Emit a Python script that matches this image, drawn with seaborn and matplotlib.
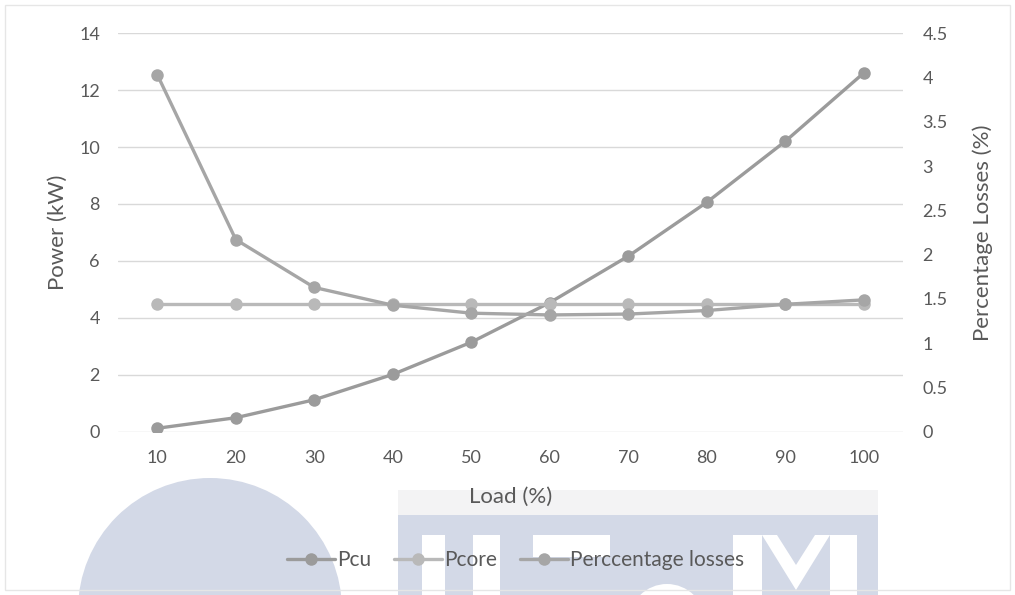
import numpy as np
import pandas as pd
import matplotlib
matplotlib.use("Agg")
import matplotlib.pyplot as plt
from matplotlib.patches import Circle, Rectangle, Polygon
from matplotlib.ticker import FuncFormatter
import seaborn as sns

load = [10, 20, 30, 40, 50, 60, 70, 80, 90, 100]
pcu = [0.13, 0.50, 1.13, 2.02, 3.15, 4.54, 6.17, 8.06, 10.2, 12.6]
pcore = [4.5, 4.5, 4.5, 4.5, 4.5, 4.5, 4.5, 4.5, 4.5, 4.5]
losses = [4.03, 2.17, 1.63, 1.43, 1.34, 1.32, 1.33, 1.37, 1.44, 1.49]

df = pd.DataFrame({'Load': load, 'Pcu': pcu, 'Pcore': pcore, 'Losses': losses})

sns.set_style('white')
plt.rcParams['font.family'] = ['Lato', 'DejaVu Sans']
txt = '#595959'

fig = plt.figure(figsize=(10.15, 5.95), dpi=100)

# faint scan watermark behind the chart (pixel coords)
bg = fig.add_axes([0, 0, 1, 1], zorder=-5)
bg.set_xlim(0, 1015)
bg.set_ylim(595, 0)
bg.axis('off')
wm = '#d3d9e7'
bg.add_patch(Circle((210, 610), 132, color=wm, lw=0))
bg.add_patch(Rectangle((398, 490), 480, 25, color='#f3f3f4', lw=0))
bg.add_patch(Rectangle((398, 515), 480, 82, color=wm, lw=0))
for x0, w in [(422, 23), (473, 27), (733, 29), (830, 27)]:
    bg.add_patch(Rectangle((x0, 535), w, 62, color='white', lw=0))
bg.add_patch(Rectangle((533, 535), 77, 22, color='white', lw=0))
bg.add_patch(Polygon([(762, 535), (796, 590), (830, 535), (815, 535), (796, 565), (777, 535)],
                     closed=True, color='white', lw=0))
bg.add_patch(Circle((667, 622), 38, color='white', lw=0))
bg.add_patch(Rectangle((5, 5), 1005, 585, fill=False, ec='#e6e6e6', lw=1))

ax = fig.add_axes([0.1163, 0.274, 0.7734, 0.6705])
ax.patch.set_alpha(0)
ax2 = ax.twinx()

c_cu, c_core, c_loss = '#9b9b9b', '#b9b9b9', '#a6a6a6'
kw = dict(marker='o', markersize=9, linewidth=2.4, markeredgewidth=0)
sns.lineplot(data=df, x='Load', y='Pcu', ax=ax, color=c_cu, label='Pcu', legend=False, **kw)
sns.lineplot(data=df, x='Load', y='Pcore', ax=ax, color=c_core, label='Pcore', legend=False, **kw)
sns.lineplot(data=df, x='Load', y='Losses', ax=ax2, color=c_loss, label='Perccentage losses', legend=False, **kw)

ax.set_xlim(5, 105)
ax.set_ylim(0, 14)
ax2.set_ylim(0, 4.5)
ax.set_xticks(load)
ax.set_yticks(np.arange(0, 15, 2))
ax2.set_yticks(np.arange(0, 4.6, 0.5))
ax2.yaxis.set_major_formatter(FuncFormatter(lambda v, p: '%g' % v))

ax.grid(axis='y', color='#d9d9d9', lw=1)
ax.set_axisbelow(True)
for a in (ax, ax2):
    for s in a.spines.values():
        s.set_visible(False)
    a.tick_params(length=0, labelsize=13, labelcolor=txt)
ax.tick_params(axis='y', pad=13)
ax.tick_params(axis='x', pad=13)
ax2.tick_params(axis='y', pad=14)

ax.set_xlabel('Load (%)', fontsize=16, color=txt, labelpad=15)
ax.set_ylabel('Power (kW)', fontsize=16, color=txt, labelpad=8)
ax2.set_ylabel('Percentage Losses (%)', fontsize=16, color=txt, labelpad=18)

h1, l1 = ax.get_legend_handles_labels()
h2, l2 = ax2.get_legend_handles_labels()
fig.legend(h1 + h2, l1 + l2, loc='center', bbox_to_anchor=(0.508, 0.058), ncol=3,
           frameon=False, fontsize=15, labelcolor=txt, handlelength=2.3,
           handletextpad=0.1, columnspacing=1.1)

fig.savefig('out.png', dpi=100)
